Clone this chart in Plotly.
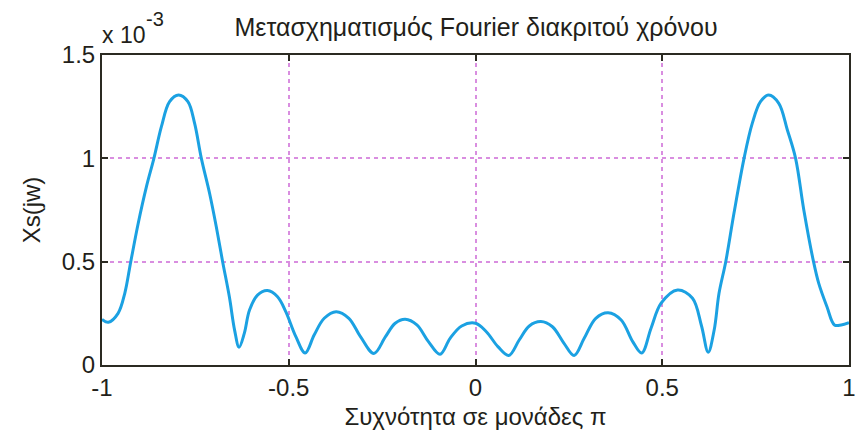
import plotly.graph_objects as go

# frequency in units of pi
freq = [-1.0, -0.983, -0.957, -0.939, -0.923, -0.903, -0.881, -0.861, -0.841, -0.819,
        -0.795, -0.770, -0.752, -0.734, -0.712, -0.694, -0.677, -0.659, -0.645, -0.633,
        -0.619, -0.605, -0.583, -0.557, -0.530, -0.508, -0.481, -0.456, -0.432, -0.405,
        -0.373, -0.339, -0.308, -0.272, -0.241, -0.215, -0.188, -0.157, -0.126, -0.095,
        -0.068, -0.037, 0.0, 0.029, 0.060, 0.089, 0.117, 0.144, 0.175, 0.206,
        0.237, 0.264, 0.291, 0.322, 0.355, 0.390, 0.421, 0.445, 0.470, 0.497,
        0.541, 0.581, 0.605, 0.623, 0.639, 0.652, 0.670, 0.692, 0.719, 0.741,
        0.763, 0.785, 0.812, 0.835, 0.857, 0.879, 0.905, 0.919, 0.941, 0.961,
        0.979, 1.0]
# |Xs(jw)| in units of 1e-3
mag = [0.221, 0.207, 0.25, 0.347, 0.5, 0.686, 0.863, 1.0, 1.153, 1.274,
       1.306, 1.274, 1.169, 1.0, 0.831, 0.669, 0.5, 0.33, 0.169, 0.086,
       0.153, 0.266, 0.339, 0.36, 0.33, 0.258, 0.137, 0.058, 0.145, 0.226,
       0.258, 0.226, 0.137, 0.056, 0.137, 0.202, 0.221, 0.194, 0.113, 0.052,
       0.129, 0.189, 0.202, 0.161, 0.089, 0.046, 0.121, 0.189, 0.21, 0.185,
       0.105, 0.046, 0.129, 0.226, 0.253, 0.218, 0.113, 0.058, 0.178, 0.299,
       0.363, 0.323, 0.19, 0.062, 0.169, 0.347, 0.5, 0.734, 1.0, 1.169,
       1.274, 1.306, 1.266, 1.137, 1.0, 0.75, 0.5, 0.395, 0.282, 0.194,
       0.194, 0.205]

x_ticks = [-1, -0.5, 0, 0.5, 1]
x_ticklabels = ["-1", "-0.5", "0", "0.5", "1"]
y_ticks = [0, 0.5, 1, 1.5]
y_ticklabels = ["0", "0.5", "1", "1.5"]

FONT = "Liberation Sans, Arial, sans-serif"
AXC = "#2b2a22"
TXT = "#231f1a"

fig = go.Figure()
fig.add_trace(go.Scatter(x=freq, y=mag, mode="lines",
                         line=dict(color="#1ba1e2", width=3, shape="spline", smoothing=1.0),
                         showlegend=False, hoverinfo="skip"))

grid = dict(showgrid=True, gridcolor="#d98ee0", griddash="4px,4px", gridwidth=1.5)
fig.update_xaxes(range=[-1, 1], tickvals=x_ticks, ticktext=x_ticklabels,
                 ticks="inside", ticklen=6, tickwidth=2, tickcolor=AXC,
                 showline=True, linecolor=AXC, linewidth=2, mirror="ticks",
                 zeroline=False,
                 tickfont=dict(family=FONT, size=24, color=TXT),
                 title=dict(text="Συχνότητα σε μονάδες π", standoff=8,
                            font=dict(family=FONT, size=24, color=TXT)),
                 **grid)
fig.update_yaxes(range=[0, 1.5], tickvals=y_ticks, ticktext=y_ticklabels,
                 ticks="inside", ticklen=6, tickwidth=2, tickcolor=AXC,
                 showline=True, linecolor=AXC, linewidth=2, mirror="ticks",
                 zeroline=False,
                 tickfont=dict(family=FONT, size=24, color=TXT),
                 title=dict(text="Xs(jw)", standoff=14,
                            font=dict(family=FONT, size=24, color=TXT)),
                 **grid)

fig.update_layout(
    width=868, height=439,
    margin=dict(l=102, r=16, t=55, b=74),
    plot_bgcolor="white", paper_bgcolor="white",
    title=dict(text="Μετασχηματισμός Fourier διακριτού χρόνου", x=476/868, xanchor="center",
               y=1 - 27/439, yanchor="middle",
               font=dict(family=FONT, size=25, color=TXT)),
    annotations=[
        dict(text="x 10", xref="paper", yref="paper",
             x=-0.003, y=1.064, xanchor="left", yanchor="middle",
             showarrow=False, font=dict(family=FONT, size=23, color=TXT)),
        dict(text="-3", xref="paper", yref="paper",
             x=0.056, y=1.116, xanchor="left", yanchor="middle",
             showarrow=False, font=dict(family=FONT, size=20, color=TXT)),
    ],
)

fig.write_html("out.html")
